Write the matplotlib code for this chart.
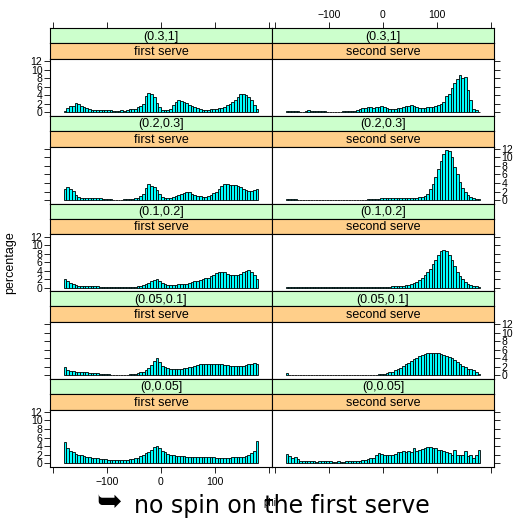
import numpy as np
import matplotlib
matplotlib.use("Agg")
import matplotlib.pyplot as plt

plt.rcParams['font.family'] = ['Liberation Sans', 'DejaVu Sans']

# 72 bins of 5 degrees over phi in [-180, 180]
edges = np.arange(-180, 181, 5)
centers = edges[:-1] + 2.5

rows = ["(0.3,1]", "(0.2,0.3]", "(0.1,0.2]", "(0.05,0.1]", "(0,0.05]"]
cols = ["first serve", "second serve"]

# percentages, one list per panel
first_03_1 = [0.3, 1.1, 1.4, 1.6, 2.3, 1.9, 1.6, 1.3, 0.95, 0.8,
              0.6, 0.5, 0.5, 0.45, 0.5, 0.6, 0.6, 0.5, 0.3, 0.3,
              0.3, 0.6, 0.3, 0.5, 0.8, 0.9, 0.9, 1.2, 1.5, 2.0,
              3.8, 4.6, 4.3, 3.5, 2.3, 1.2, 0.6, 0.5, 0.6, 0.9,
              1.7, 2.4, 2.8, 2.6, 2.4, 2.3, 1.8, 1.6, 1.3, 1.0,
              0.8, 0.6, 0.6, 0.5, 0.7, 0.8, 0.9, 1.0, 1.0, 1.3,
              1.7, 2.0, 2.5, 2.9, 3.5, 4.4, 4.3, 4.1, 3.7, 2.8,
              1.7, 0.8]
second_03_1 = [0.3, 0.4, 0.4, 0.4, 0.3, 0.2, 0.2, 0.3, 0.5, 0.3,
               0.3, 0.4, 0.4, 0.4, 0.3, 0.2, 0.2, 0.2, 0.2, 0.2,
               0.2, 0.3, 0.3, 0.3, 0.3, 0.4, 0.5, 0.8, 1.0, 1.1,
               1.2, 1.2, 1.1, 1.2, 1.3, 1.5, 1.3, 1.0, 0.9, 0.9,
               0.9, 1.0, 1.1, 1.3, 1.4, 1.5, 1.8, 1.4, 1.2, 1.1,
               1.1, 1.1, 1.2, 1.2, 1.3, 1.5, 1.7, 2.0, 2.4, 3.8,
               4.2, 5.8, 6.9, 7.8, 8.7, 8.0, 8.2, 5.3, 2.8, 0.9,
               0.6, 0.2]
first_02_03 = [2.7, 3.0, 2.6, 2.2, 1.2, 0.8, 0.6, 0.55, 0.6, 0.6,
               0.45, 0.45, 0.45, 0.4, 0.2, 0.2, 0.15, 0.15, 0.1, 0.1,
               0.1, 0.1, 0.15, 0.2, 0.25, 0.3, 0.4, 0.5, 0.9, 1.5,
               2.8, 3.8, 3.3, 3.0, 2.3, 1.4, 0.8, 0.6, 0.6, 0.6,
               0.8, 1.0, 1.2, 1.5, 1.7, 1.8, 1.8, 1.5, 1.2, 1.0,
               0.9, 0.8, 0.8, 1.0, 1.3, 1.6, 2.0, 2.5, 3.3, 3.7,
               3.7, 3.6, 3.6, 3.5, 3.3, 3.0, 2.7, 2.3, 2.2, 2.2,
               2.3, 2.6]
second_02_03 = [0.2, 0.2, 0.2, 0.15, 0.1, 0.1, 0.1, 0.1, 0.1, 0.1,
                0.1, 0.1, 0.1, 0.1, 0.1, 0.1, 0.1, 0.1, 0.1, 0.1,
                0.1, 0.1, 0.1, 0.1, 0.1, 0.1, 0.1, 0.1, 0.1, 0.1,
                0.15, 0.2, 0.2, 0.25, 0.3, 0.4, 0.5, 0.6, 0.6, 0.6,
                0.5, 0.4, 0.4, 0.4, 0.4, 0.5, 0.5, 0.5, 0.6, 0.7,
                0.8, 0.9, 1.5, 2.5, 3.8, 5.5, 7.2, 9.2, 10.8, 11.7,
                11.4, 10.0, 7.8, 6.0, 4.2, 2.9, 1.8, 1.1, 0.7, 0.4,
                0.3, 0.15]
first_01_02 = [2.0, 1.6, 1.2, 0.9, 0.65, 0.5, 0.5, 0.45, 0.4, 0.4,
               0.35, 0.3, 0.3, 0.2, 0.15, 0.15, 0.1, 0.1, 0.1, 0.1,
               0.1, 0.1, 0.1, 0.1, 0.15, 0.15, 0.2, 0.3, 0.4, 0.6,
               0.8, 1.1, 1.5, 1.9, 2.0, 1.6, 1.2, 0.9, 0.7, 0.6,
               0.6, 0.7, 0.8, 0.8, 0.9, 1.0, 1.2, 1.3, 1.5, 1.6,
               1.8, 2.0, 2.2, 2.4, 2.7, 3.0, 3.4, 3.7, 3.8, 3.6,
               3.3, 3.1, 3.0, 2.9, 3.0, 3.3, 3.6, 4.0, 4.2, 3.8,
               3.0, 2.1]
second_01_02 = [0.1, 0.1, 0.1, 0.1, 0.1, 0.1, 0.1, 0.1, 0.1, 0.1,
                0.1, 0.1, 0.1, 0.1, 0.1, 0.1, 0.1, 0.1, 0.1, 0.1,
                0.1, 0.1, 0.1, 0.1, 0.1, 0.1, 0.1, 0.1, 0.1, 0.1,
                0.1, 0.15, 0.15, 0.15, 0.2, 0.2, 0.2, 0.25, 0.25, 0.3,
                0.3, 0.35, 0.4, 0.5, 0.6, 0.7, 0.9, 1.1, 1.4, 1.8,
                2.3, 2.9, 3.6, 4.5, 5.5, 6.5, 7.6, 8.5, 8.9, 8.6,
                7.7, 6.4, 5.0, 3.8, 2.8, 2.0, 1.4, 0.9, 0.6, 0.4,
                0.3, 0.15]
first_005_01 = [1.9, 1.3, 1.1, 1.0, 0.9, 0.85, 0.8, 0.75, 0.7, 0.65,
                0.6, 0.55, 0.5, 0.4, 0.35, 0.3, 0.25, 0.2, 0.2, 0.2,
                0.15, 0.15, 0.2, 0.2, 0.25, 0.3, 0.4, 0.5, 0.7, 0.9,
                1.3, 1.7, 2.4, 3.3, 4.1, 3.1, 2.3, 1.9, 1.7, 1.6,
                1.5, 1.5, 1.5, 1.6, 1.7, 1.8, 1.9, 2.1, 2.3, 2.5,
                2.6, 2.7, 2.8, 2.8, 2.8, 2.8, 2.8, 2.7, 2.6, 2.5,
                2.4, 2.3, 2.3, 2.2, 2.2, 2.3, 2.3, 2.4, 2.6, 2.8,
                3.0, 2.6]
second_005_01 = [0.5, 0.15, 0.1, 0.1, 0.1, 0.1, 0.1, 0.1, 0.1, 0.1,
                 0.1, 0.1, 0.1, 0.1, 0.1, 0.1, 0.1, 0.1, 0.1, 0.1,
                 0.1, 0.1, 0.1, 0.1, 0.1, 0.1, 0.1, 0.1, 0.1, 0.1,
                 0.1, 0.1, 0.1, 0.1, 0.3, 0.3, 0.3, 0.5, 0.7, 0.9,
                 1.2, 1.5, 1.8, 2.2, 2.6, 3.0, 3.4, 3.8, 4.2, 4.6,
                 4.9, 5.1, 5.2, 5.2, 5.3, 5.3, 5.2, 5.0, 4.8, 4.6,
                 4.4, 4.1, 3.7, 3.2, 2.7, 2.3, 1.9, 1.6, 1.4, 1.2,
                 0.8, 0.4]
first_0_005 = [5.0, 3.5, 2.9, 2.5, 2.2, 2.0, 1.8, 1.65, 1.5, 1.35,
               1.25, 1.15, 1.1, 1.0, 1.0, 0.9, 0.85, 0.8, 0.8, 0.75,
               0.75, 0.75, 0.8, 0.85, 0.9, 1.0, 1.1, 1.3, 1.6, 2.0,
               2.3, 2.7, 3.2, 3.7, 4.0, 3.6, 2.9, 2.5, 2.2, 2.0,
               1.8, 1.7, 1.65, 1.6, 1.6, 1.55, 1.5, 1.5, 1.5, 1.45,
               1.4, 1.4, 1.4, 1.4, 1.35, 1.35, 1.3, 1.3, 1.3, 1.3,
               1.3, 1.3, 1.35, 1.35, 1.35, 1.4, 1.5, 1.7, 1.9, 2.3,
               2.8, 5.1]
second_0_005 = [2.2, 1.6, 1.2, 1.4, 1.0, 0.55, 0.5, 0.5, 0.45, 0.4,
                0.5, 0.3, 0.4, 0.5, 0.4, 0.6, 0.5, 0.3, 0.3, 0.4,
                0.3, 0.3, 0.5, 0.4, 0.5, 0.5, 0.6, 0.6, 0.8, 0.8,
                1.0, 1.1, 1.3, 1.8, 2.3, 2.2, 1.8, 1.8, 1.9, 2.0,
                2.2, 2.5, 2.7, 2.8, 2.7, 2.9, 2.5, 3.6, 2.8, 3.0,
                3.3, 3.6, 3.7, 3.9, 3.6, 3.5, 3.2, 3.0, 2.8, 2.6,
                2.4, 2.0, 3.1, 2.0, 2.0, 2.0, 2.9, 1.6, 1.8, 1.2,
                2.0, 3.2]

panels = [[first_03_1, second_03_1],
          [first_02_03, second_02_03],
          [first_01_02, second_01_02],
          [first_005_01, second_005_01],
          [first_0_005, second_0_005]]

W, H = 518.0, 518.0
fig = plt.figure(figsize=(W / 100, H / 100), dpi=100)


def box(x0, y0, x1, y1):
    # pixel box (from top-left) -> figure fraction
    return [x0 / W, 1 - y1 / H, (x1 - x0) / W, (y1 - y0) / H]


xl = [50, 272, 494]
top0 = 28.3
rowh = 87.7
green_h = 15.0
orange_h = 15.7
xlim = (-205.5, 205.5)
ylim = (-0.85, 12.5)
xt = [-200, -100, 0, 100, 200]
xtl = ['', '\u2212100', '0', '100', '']
lw = 0.8

for r in range(5):
    t = top0 + r * rowh
    for c in range(2):
        x0, x1 = xl[c], xl[c + 1]
        # condition strip (green) and serve strip (orange)
        sg = fig.add_axes(box(x0, t, x1, t + green_h))
        so = fig.add_axes(box(x0, t + green_h, x1, t + green_h + orange_h))
        for s, col, txt in [(sg, '#CCFFCC', rows[r]), (so, '#FFCF8A', cols[c])]:
            s.set_facecolor(col)
            s.set_xlim(xlim)
            s.set_xticks([])
            s.set_yticks([])
            for sp in s.spines.values():
                sp.set_linewidth(lw)
            s.text(0.5, 0.45, txt, transform=s.transAxes, ha='center',
                   va='center', fontsize=9)
        if r == 0:
            sg.set_xticks(xt)
            sg.set_xticklabels(xtl)
            sg.tick_params(axis='x', direction='out', length=4, width=0.6,
                           top=True, bottom=False, labelbottom=False,
                           labeltop=(c == 1), labelsize=7.5, pad=2)

        ax = fig.add_axes(box(x0, t + green_h + orange_h, x1, t + rowh))
        ax.bar(centers, panels[r][c], width=5, color='#00FFFF',
               edgecolor='black', linewidth=0.6)
        ax.set_xlim(xlim)
        ax.set_ylim(ylim)
        for sp in ax.spines.values():
            sp.set_linewidth(lw)
        ax.set_yticks(range(0, 13, 2))
        # outer sides only: left column ticks left, right column ticks right
        ax.tick_params(axis='y', direction='out', length=4, width=0.6,
                       left=(c == 0), right=(c == 1), labelsize=7.5, pad=1.5,
                       labelleft=(c == 0 and r % 2 == 0),
                       labelright=(c == 1 and r % 2 == 1))
        if r == 4:
            ax.set_xticks(xt)
            ax.set_xticklabels(xtl)
            ax.tick_params(axis='x', direction='out', length=4, width=0.6,
                           labelbottom=(c == 0), labelsize=7.5, pad=3)
        else:
            ax.set_xticks([])

fig.text(10 / W, 1 - 263 / H, 'percentage', rotation=90, ha='center',
         va='center', fontsize=9)
fig.text(270 / W, 1 - 503 / H, 'phi', ha='center', va='center', fontsize=7)
fig.text(96 / W, 7 / H, '\u27a5', fontsize=22, weight='bold',
         family=['DejaVu Sans'], ha='left', va='baseline')
fig.text(134 / W, 5 / H, 'no spin on the first serve', fontsize=17,
         family=['DejaVu Sans'], ha='left', va='baseline')

fig.savefig('out.png', dpi=100)
